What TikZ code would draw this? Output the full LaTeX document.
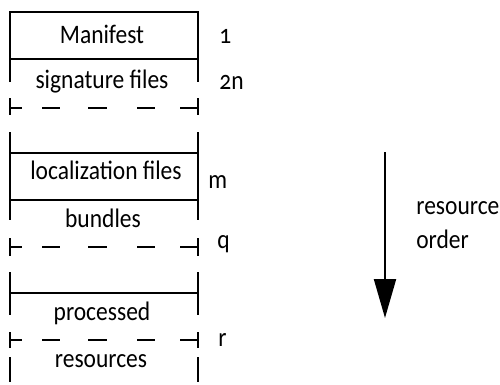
\documentclass[tikz,border=0pt]{standalone}
\usepackage{fontspec}
\setmainfont{Carlito}[Numbers=OldStyle,FakeStretch=0.88]
\usetikzlibrary{arrows.meta}
\begin{document}
\begin{tikzpicture}[x=0.2mm,y=-0.2mm,
  wall/.style={line width=1.15pt},
  lbl/.style={font=\fontsize{15.2}{17}\selectfont, inner sep=0pt, anchor=center},
  num/.style={font=\fontsize{15.2}{17}\selectfont, inner sep=0pt, anchor=west}]
\useasboundingbox (0,0) rectangle (500,384);
\newcommand{\dashrow}[3]{% y, tick top, tick bottom
  \draw[wall] (10,#2) -- (10,#3);
  \draw[wall] (198,#2) -- (198,#3);
  \draw[wall] (10,#1) -- (22,#1);
  \draw[wall] (42,#1) -- (60,#1);
  \draw[wall] (88,#1) -- (107,#1);
  \draw[wall] (137,#1) -- (155,#1);
  \draw[wall] (180,#1) -- (198,#1);}
% group 1
\draw[wall] (10,82) -- (10,12) -- (198,12) -- (198,82);
\draw[wall] (10,59) -- (198,59);
\dashrow{108}{98}{115}
% group 2
\draw[wall] (10,132) -- (10,220);
\draw[wall] (198,132) -- (198,220);
\draw[wall] (10,153) -- (198,153);
\draw[wall] (10,200) -- (198,200);
\dashrow{247}{238}{256}
% group 3
\draw[wall] (10,272) -- (10,315);
\draw[wall] (198,272) -- (198,315);
\draw[wall] (10,293) -- (198,293);
\dashrow{340}{332}{348}
\draw[wall] (10,357) -- (10,382);
\draw[wall] (198,357) -- (198,382);
% labels
\node[lbl] (manifest) at (102,34) {Manifest};
\node[lbl] (sig) at (102,82) {signature files};
\node[lbl] (loc) at (106,170) {localization files};
\node[lbl] (bund) at (103,218) {bundles};
\node[lbl] (proc) at (102,313) {processed};
\node[lbl] (res) at (101,361) {resources};
\node[num] (n1) at (219,36) {1};
\node[num] (n2) at (219,82) {2n};
\node[num] (nm) at (208,182) {m};
\node[num] (nq) at (217,244) {q};
\node[num] (nr) at (218,340) {r};
% arrow
\coordinate (atop) at (385,152);
\coordinate (abot) at (385,318);
\draw[wall, -{Triangle[length=7.8mm,width=4.4mm]}] (atop) -- (abot);
\node[num, align=left] (order) at (416,225) {resource\\[2pt]order};
\end{tikzpicture}
\end{document}
